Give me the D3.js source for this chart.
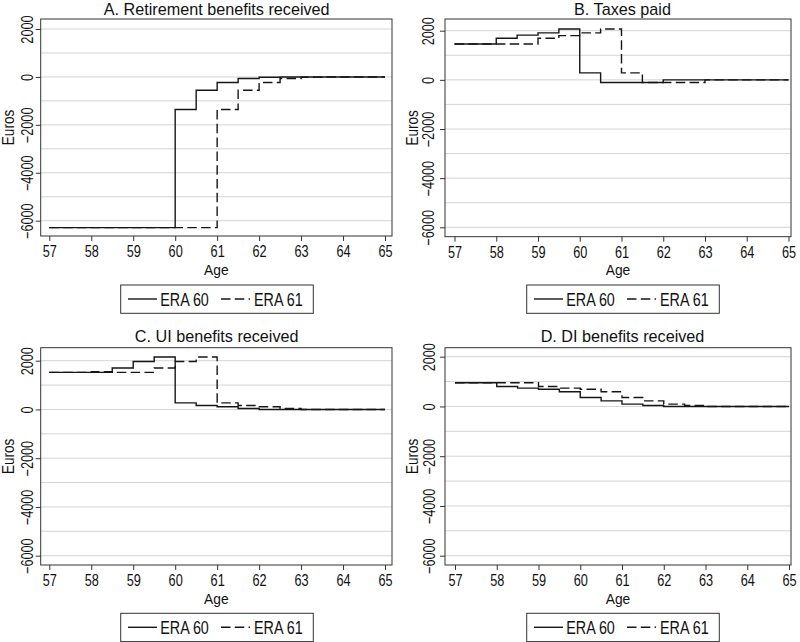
<!DOCTYPE html>
<html>
<head>
<meta charset="utf-8">
<script src="https://cdn.jsdelivr.net/npm/d3@7"></script>
<style>
  html, body { margin: 0; padding: 0; background: #fff; }
  svg { display: block; }
  text { font-family: "Liberation Sans", Arial, Helvetica, sans-serif; fill: #111; }
</style>
</head>
<body>
<svg id="chart" width="800" height="642"></svg>
<script>
// ---------- data ----------
const ages = [57, 57.5, 58, 58.5, 59, 59.5, 60, 60.5, 61, 61.5, 62, 62.5, 63, 63.5, 64, 64.5, 65];
const xTickValues = [57, 58, 59, 60, 61, 62, 63, 64, 65];
const yTickValues = [2000, 0, -2000, -4000, -6000];
const gridValues = [2000, 1000, 0, -1000, -2000, -3000, -4000, -5000, -6000];
const seriesNames = ["ERA 60", "ERA 61"];
const panelTitles = ["A. Retirement benefits received", "B. Taxes paid", "C. UI benefits received", "D. DI benefits received"];
const xTitle = "Age";
const yTitle = "Euros";

const retire60 = [-6290, -6290, -6290, -6290, -6290, -6290, -1360, -555, -235, -65, -15, 0, 0, 0, 0, 0, 0];
const retire61 = [-6290, -6290, -6290, -6290, -6290, -6290, -6290, -6290, -1360, -555, -235, -65, -15, 0, 0, 0, 0];
const taxes60  = [1460, 1460, 1690, 1820, 1910, 2070, 285, -110, -110, -110, 0, 0, 0, 0, 0, 0, 0];
const taxes61  = [1460, 1460, 1460, 1460, 1690, 1800, 1910, 2070, 285, -110, -110, -110, 0, 0, 0, 0, 0];
const ui60     = [1520, 1520, 1520, 1700, 1970, 2150, 270, 160, 110, 40, 0, 0, 0, 0, 0, 0, 0];
const ui61     = [1520, 1520, 1550, 1520, 1520, 1700, 1970, 2150, 270, 160, 110, 40, 0, 0, 0, 0, 0];
const di60     = [950, 950, 800, 735, 690, 590, 360, 225, 95, 40, 0, 0, 0, 0, 0, 0, 0];
const di61     = [950, 950, 950, 950, 800, 735, 690, 590, 360, 225, 95, 40, 0, 0, 0, 0, 0];

// ---------- layout (positions only) ----------
const NX = 0.82;   // narrow font horizontal scale (axis titles/legend)
const NXT = 0.77;  // narrow scale for tick labels
const panels = [
  { title: panelTitles[0], s: [retire60, retire61], fx: [40.7, 392], fy: [19, 236], xr: [49.3, 385], yr: [220.7, 29], tx: 216.7, ty: 14.5, labX: 33, eurX: 14, legX: 120.7, legY: 285 },
  { title: panelTitles[1], s: [taxes60, taxes61], fx: [445, 791], fy: [19, 236.7], xr: [454.5, 788.5], yr: [227.3, 30.7], tx: 622.5, ty: 14.5, labX: 433.5, eurX: 418, legX: 526.7, legY: 285 },
  { title: panelTitles[2], s: [ui60, ui61], fx: [40.7, 392], fy: [347.7, 565], xr: [49.3, 385], yr: [555.7, 360.7], tx: 216.7, ty: 341.5, labX: 33, eurX: 14, legX: 120.7, legY: 613.3 },
  { title: panelTitles[3], s: [di60, di61], fx: [445, 791], fy: [347.7, 565], xr: [455, 789], yr: [555.7, 356.7], tx: 622.5, ty: 341.5, labX: 435, eurX: 418, legX: 526.7, legY: 613.3 }
];

const LINE_COLOR = "#161616";
const DASH = "9.5,4.3";
const svg = d3.select("#chart");

panels.forEach(p => {
  const g = svg.append("g");
  const x = d3.scaleLinear().domain([57, 65]).range(p.xr);
  const y = d3.scaleLinear().domain([-6000, 2000]).range(p.yr);

  // gridlines
  g.append("g").selectAll("line").data(gridValues).join("line")
    .attr("x1", p.fx[0]).attr("x2", p.fx[1])
    .attr("y1", d => y(d)).attr("y2", d => y(d))
    .attr("stroke", "#d4d4d4").attr("stroke-width", 1);

  // lines
  const line = d3.line().x((d, i) => x(ages[i])).y(d => y(d)).curve(d3.curveStepAfter);
  p.s.forEach((vals, k) => {
    g.append("path").datum(vals)
      .attr("d", line)
      .attr("fill", "none")
      .attr("stroke", LINE_COLOR)
      .attr("stroke-width", 1.4)
      .attr("stroke-dasharray", k === 1 ? DASH : null);
  });

  // frame
  g.append("rect")
    .attr("x", p.fx[0]).attr("y", p.fy[0])
    .attr("width", p.fx[1] - p.fx[0]).attr("height", p.fy[1] - p.fy[0])
    .attr("fill", "none").attr("stroke", "#333").attr("stroke-width", 1);

  // x axis
  const xa = g.append("g").attr("transform", `translate(0,${p.fy[1]})`)
    .call(d3.axisBottom(x).tickValues(xTickValues).tickSize(5).tickFormat(d3.format("d")));
  xa.select(".domain").remove();
  xa.selectAll(".tick line").attr("stroke", "#333");
  xa.selectAll(".tick text")
    .attr("y", 21).attr("dy", null)
    .attr("transform", `scale(${NXT},1)`)
    .style("font-size", "16.5px").attr("fill", "#111");

  // y axis
  const ya = g.append("g").attr("transform", `translate(${p.fx[0]},0)`)
    .call(d3.axisLeft(y).tickValues(yTickValues).tickSize(5).tickFormat(d => d < 0 ? "\u2212" + Math.abs(d) : String(d)));
  ya.select(".domain").remove();
  ya.selectAll(".tick line").attr("stroke", "#333");
  ya.selectAll(".tick text")
    .attr("x", 0).attr("y", 0).attr("dy", null)
    .attr("text-anchor", "middle")
    .attr("transform", `translate(${p.labX - p.fx[0]},0) rotate(-90) scale(${NXT},1)`)
    .style("font-size", "16.5px").attr("fill", "#111");

  // axis titles
  g.append("text")
    .attr("transform", `translate(${(p.fx[0] + p.fx[1]) / 2},${p.fy[1] + 38.5}) scale(0.92,1)`)
    .attr("text-anchor", "middle").style("font-size", "15px").text(xTitle);
  g.append("text")
    .attr("transform", `translate(${p.eurX},${(p.fy[0] + p.fy[1]) / 2}) rotate(-90) scale(${NX},1)`)
    .attr("text-anchor", "middle").style("font-size", "16.5px").text(yTitle);

  // panel title
  g.append("text")
    .attr("x", p.tx).attr("y", p.ty)
    .attr("text-anchor", "middle").style("font-size", "16.2px").text(p.title);

  // legend
  const lg = g.append("g").attr("transform", `translate(${p.legX},${p.legY})`);
  lg.append("rect").attr("x", 0).attr("y", 0).attr("width", 192.6).attr("height", 28.3)
    .attr("fill", "#fff").attr("stroke", "#333").attr("stroke-width", 1);
  const items = [
    { name: seriesNames[0], lx: 7.3, tx: 39.5, dash: null },
    { name: seriesNames[1], lx: 100.3, tx: 133.3, dash: DASH }
  ];
  items.forEach(it => {
    lg.append("line").attr("x1", it.lx).attr("x2", it.lx + 29).attr("y1", 14).attr("y2", 14)
      .attr("stroke", LINE_COLOR).attr("stroke-width", 1.4).attr("stroke-dasharray", it.dash);
    lg.append("text").attr("transform", `translate(${it.tx},20.5) scale(${NX},1)`)
      .style("font-size", "17.5px").text(it.name);
  });
});
</script>
</body>
</html>
